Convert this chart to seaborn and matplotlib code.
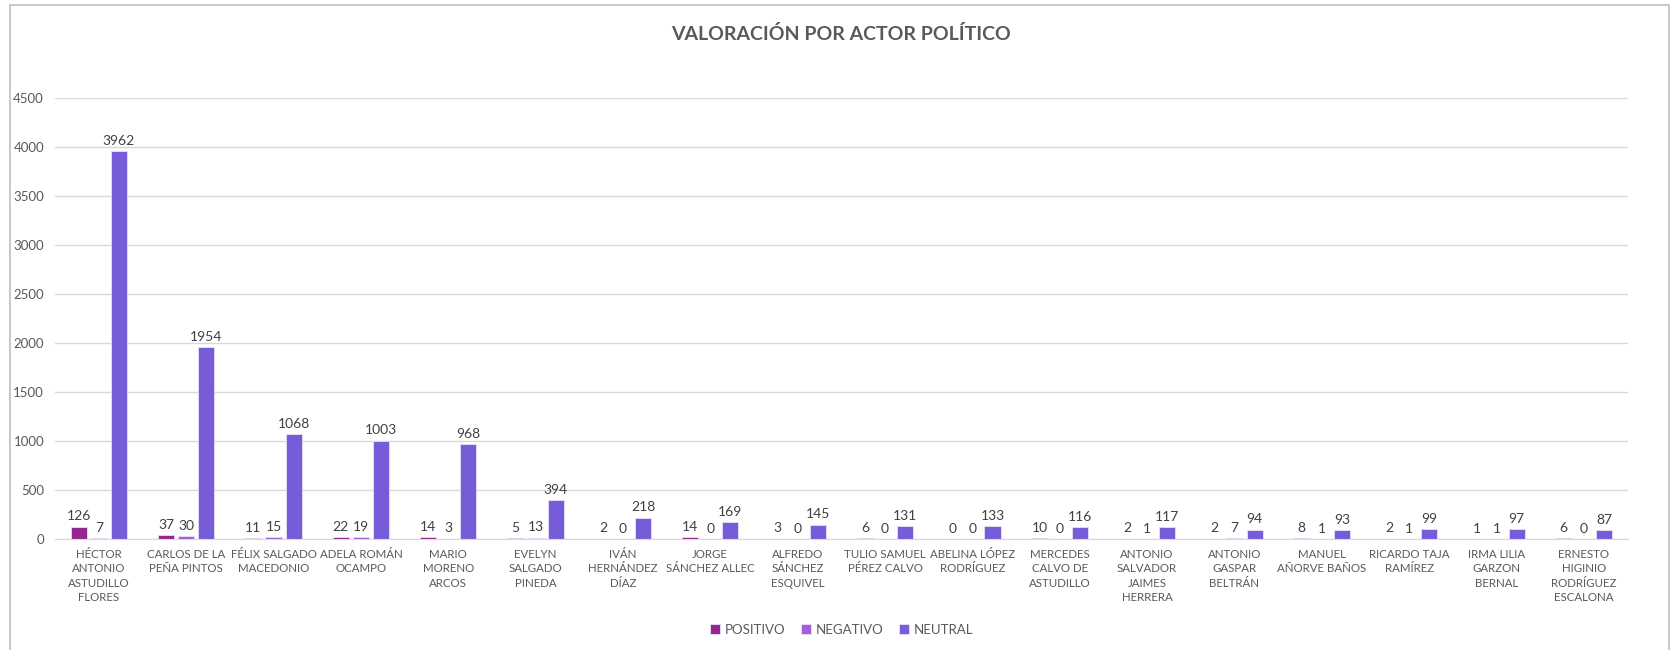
import matplotlib
matplotlib.use("Agg")
import matplotlib.pyplot as plt
import pandas as pd
import seaborn as sns
from matplotlib.patches import Rectangle

actores = [
    "HÉCTOR\nANTONIO\nASTUDILLO\nFLORES", "CARLOS DE LA\nPEÑA PINTOS", "FÉLIX SALGADO\nMACEDONIO",
    "ADELA ROMÁN\nOCAMPO", "MARIO\nMORENO\nARCOS", "EVELYN\nSALGADO\nPINEDA",
    "IVÁN\nHERNÁNDEZ\nDÍAZ", "JORGE\nSÁNCHEZ ALLEC", "ALFREDO\nSÁNCHEZ\nESQUIVEL",
    "TULIO SAMUEL\nPÉREZ CALVO", "ABELINA LÓPEZ\nRODRÍGUEZ", "MERCEDES\nCALVO DE\nASTUDILLO",
    "ANTONIO\nSALVADOR\nJAIMES\nHERRERA", "ANTONIO\nGASPAR\nBELTRÁN", "MANUEL\nAÑORVE BAÑOS",
    "RICARDO TAJA\nRAMÍREZ", "IRMA LILIA\nGARZON\nBERNAL", "ERNESTO\nHIGINIO\nRODRÍGUEZ\nESCALONA",
]
positivo = [126, 37, 11, 22, 14, 5, 2, 14, 3, 6, 0, 10, 2, 2, 8, 2, 1, 6]
negativo = [7, 30, 15, 19, 3, 13, 0, 0, 0, 0, 0, 0, 1, 7, 1, 1, 1, 0]
neutral = [3962, 1954, 1068, 1003, 968, 394, 218, 169, 145, 131, 133, 116, 117, 94, 93, 99, 97, 87]
series = ["POSITIVO", "NEGATIVO", "NEUTRAL"]
colores = ["#952591", "#A45DDB", "#765CD9"]
yticks = [0, 500, 1000, 1500, 2000, 2500, 3000, 3500, 4000, 4500]

df = pd.DataFrame({"actor": actores * 3,
                   "serie": [s for s in series for _ in actores],
                   "valor": positivo + negativo + neutral})

sns.set_style("white")
plt.rcParams["font.family"] = ["Lato", "DejaVu Sans"]

fig = plt.figure(figsize=(16.71, 6.5), dpi=100)
ax = fig.add_axes([0.033, 0.171, 0.941, 0.678])

sns.barplot(data=df, x="actor", y="valor", hue="serie", order=actores, hue_order=series,
            palette=colores, saturation=1, width=0.69, gap=0.2, edgecolor="#e6e0f7",
            linewidth=0.6, ax=ax, legend=True)

for cont in ax.containers:
    ax.bar_label(cont, padding=3, fontsize=10, color="#404040")

ax.set_ylim(0, 4500)
ax.set_yticks(yticks)
ax.set_xlim(-0.5, len(actores) - 0.5)
ax.grid(axis="y", color="#d9d9d9", linewidth=1)
ax.set_axisbelow(True)
for s in ["top", "right", "left"]:
    ax.spines[s].set_visible(False)
ax.spines["bottom"].set_color("#d9d9d9")
ax.tick_params(axis="both", length=0, colors="#595959")
ax.tick_params(axis="y", labelsize=9.5, pad=8)
ax.tick_params(axis="x", labelsize=8.3, pad=7)
for lbl in ax.get_xticklabels():
    lbl.set_linespacing(1.4)
ax.set_xlabel("")
ax.set_ylabel("")

ax.legend(loc="center", bbox_to_anchor=(0.5, -0.206), ncol=3, frameon=False,
          fontsize=9.5, handlelength=0.8, handleheight=0.8, handletextpad=0.3,
          columnspacing=1.2, labelcolor="#595959")

fig.text(0.503, 0.947, "VALORACIÓN POR ACTOR POLÍTICO", ha="center", va="center",
         fontsize=14, fontweight="bold", color="#595959")

fig.patches.append(Rectangle((10 / 1671, -0.01), 1659 / 1671, 1 - 5 / 650 + 0.01,
                             transform=fig.transFigure, fill=False,
                             edgecolor="#bfbfbf", linewidth=1.2))

plt.savefig("out.png", dpi=100)
plt.close()
